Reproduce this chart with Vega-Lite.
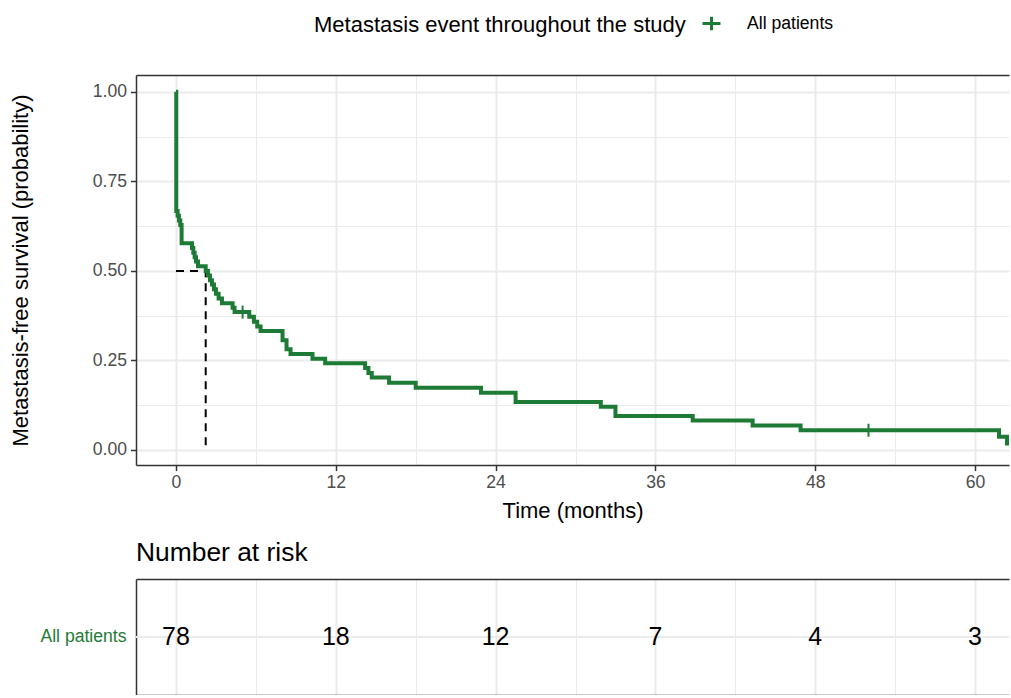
{
  "$schema": "https://vega.github.io/schema/vega-lite/v6.json",
  "background": "white",
  "padding": {"left": 9, "top": 13, "right": 0, "bottom": 0},
  "bounds": "flush",
  "spacing": 114,
  "config": {
    "font": "Liberation Sans",
    "view": {"stroke": null},
    "axis": {
      "labelFont": "Liberation Sans",
      "titleFont": "Liberation Sans",
      "titleFontWeight": "normal",
      "titleColor": "#000000",
      "labelColor": "#4d4d4d",
      "tickColor": "#333333",
      "domainColor": "#333333",
      "gridColor": "#ebebeb",
      "labelFlush": false
    },
    "title": {"font": "Liberation Sans"}
  },
  "datasets": {
    "km": [
      {"t": 0, "s": 1.0},
      {"t": 0.02, "s": 0.667},
      {"t": 0.12, "s": 0.654},
      {"t": 0.22, "s": 0.641},
      {"t": 0.32, "s": 0.628},
      {"t": 0.42, "s": 0.577},
      {"t": 1.2, "s": 0.564},
      {"t": 1.3, "s": 0.551},
      {"t": 1.4, "s": 0.538},
      {"t": 1.5, "s": 0.526},
      {"t": 1.65, "s": 0.513},
      {"t": 2.23, "s": 0.5},
      {"t": 2.4, "s": 0.487},
      {"t": 2.55, "s": 0.474},
      {"t": 2.7, "s": 0.462},
      {"t": 2.85, "s": 0.449},
      {"t": 3.0, "s": 0.436},
      {"t": 3.2, "s": 0.423},
      {"t": 3.45, "s": 0.41},
      {"t": 4.25, "s": 0.397},
      {"t": 4.4, "s": 0.385},
      {"t": 5.5, "s": 0.372},
      {"t": 5.85, "s": 0.358},
      {"t": 6.1, "s": 0.345},
      {"t": 6.35, "s": 0.332},
      {"t": 8.0, "s": 0.306},
      {"t": 8.3, "s": 0.281},
      {"t": 8.6, "s": 0.268},
      {"t": 10.25, "s": 0.255},
      {"t": 11.2, "s": 0.242},
      {"t": 14.2, "s": 0.229},
      {"t": 14.45, "s": 0.215},
      {"t": 14.7, "s": 0.202},
      {"t": 16.0, "s": 0.188},
      {"t": 18.0, "s": 0.174},
      {"t": 22.9, "s": 0.16},
      {"t": 25.5, "s": 0.134},
      {"t": 31.9, "s": 0.121},
      {"t": 33.0, "s": 0.095},
      {"t": 38.8, "s": 0.082},
      {"t": 43.3, "s": 0.068},
      {"t": 46.9, "s": 0.055},
      {"t": 61.8, "s": 0.037},
      {"t": 62.4, "s": 0.018},
      {"t": 62.7, "s": 0.018}
    ],
    "censor": [
      {"t": 5.0, "s": 0.385},
      {"t": 52.0, "s": 0.055}
    ],
    "median": [
      {"t": 0, "s": 0.5, "o": 1},
      {"t": 2.23, "s": 0.5, "o": 2},
      {"t": 2.23, "s": 0, "o": 3}
    ],
    "risk": [
      {"t": 0, "n": 78, "group": "All patients"},
      {"t": 12, "n": 18, "group": "All patients"},
      {"t": 24, "n": 12, "group": "All patients"},
      {"t": 36, "n": 7, "group": "All patients"},
      {"t": 48, "n": 4, "group": "All patients"},
      {"t": 60, "n": 3, "group": "All patients"}
    ]
  },
  "vconcat": [
    {
      "width": 873,
      "height": 390,
      "resolve": {"axis": {"x": "independent", "y": "independent"}},
      "layer": [
        {
          "data": {"name": "median"},
          "mark": {"type": "line", "color": "#000000", "strokeWidth": 2, "strokeDash": [8, 6]},
          "encoding": {
            "x": {
              "field": "t", "type": "quantitative",
              "scale": {"domain": [-3.004, 62.55], "nice": false, "zero": false},
              "axis": {"orient": "top", "domain": true, "domainWidth": 1.5, "ticks": false, "labels": false, "grid": false, "title": null}
            },
            "y": {
              "field": "s", "type": "quantitative",
              "scale": {"domain": [-0.042, 1.047], "nice": false, "zero": false},
              "axis": null
            },
            "order": {"field": "o"}
          }
        },
        {
          "data": {"name": "km"},
          "mark": {"type": "line", "interpolate": "step-after", "strokeWidth": 4, "clip": true},
          "encoding": {
            "x": {
              "field": "t", "type": "quantitative",
              "axis": {
                "orient": "bottom",
                "values": [0, 6, 12, 18, 24, 30, 36, 42, 48, 54, 60],
                "labelExpr": "datum.value % 12 === 0 ? datum.label : ''",
                "grid": true,
                "gridWidth": {"condition": {"test": "datum.value % 12 === 0", "value": 2}, "value": 1},
                "tickOpacity": {"condition": {"test": "datum.value % 12 === 0", "value": 1}, "value": 0},
                "tickSize": 5.5,
                "tickWidth": 1.5,
                "labelFontSize": 17.6,
                "labelPadding": 3,
                "domain": true,
                "domainWidth": 1.5,
                "title": "Time (months)",
                "titleFontSize": 22,
                "titleY": 45,
                "titleBaseline": "middle"
              }
            },
            "y": {
              "field": "s", "type": "quantitative",
              "axis": {
                "orient": "left",
                "values": [0, 0.125, 0.25, 0.375, 0.5, 0.625, 0.75, 0.875, 1],
                "format": ".2f",
                "labelExpr": "datum.value % 0.25 === 0 ? datum.label : ''",
                "grid": true,
                "gridWidth": {"condition": {"test": "datum.value % 0.25 === 0", "value": 2}, "value": 1},
                "tickOpacity": {"condition": {"test": "datum.value % 0.25 === 0", "value": 1}, "value": 0},
                "tickSize": 5.5,
                "tickWidth": 1.5,
                "labelFontSize": 17.6,
                "labelPadding": 4,
                "domain": true,
                "domainWidth": 1.5,
                "title": "Metastasis-free survival (probability)",
                "titleFontSize": 22,
                "titleX": -116,
                "titleY": 195,
                "titleAngle": 270,
                "titleAlign": "center",
                "titleBaseline": "middle"
              }
            },
            "color": {
              "datum": "All patients",
              "type": "nominal",
              "scale": {"domain": ["All patients"], "range": ["#1e7b35"]},
              "legend": {
                "orient": "none",
                "legendX": 178,
                "legendY": -62,
                "direction": "horizontal",
                "title": "Metastasis event throughout the study",
                "titleOrient": "left",
                "titleLimit": 1000,
                "titleFontSize": 22,
                "titleFontWeight": "normal",
                "titleColor": "#000000",
                "titleFont": "Liberation Sans",
                "titlePadding": 15,
                "labelFontSize": 17.6,
                "labelColor": "#000000",
                "labelFont": "Liberation Sans",
                "labelOffset": 25,
                "labelLimit": 500,
                "symbolType": "M-1,0H1M0,-0.75V0.75",
                "symbolSize": 324,
                "symbolStrokeWidth": 3
              }
            }
          }
        },
        {
          "data": {"name": "censor"},
          "mark": {"type": "point", "shape": "M0,-1V1", "size": 169, "filled": false, "strokeWidth": 2, "color": "#1e7b35", "opacity": 1},
          "encoding": {
            "x": {"field": "t", "type": "quantitative", "axis": null},
            "y": {"field": "s", "type": "quantitative", "axis": null}
          }
        }
      ]
    },
    {
      "width": 873,
      "height": 116,
      "title": {"text": "Number at risk", "anchor": "start", "frame": "group", "fontSize": 26.4, "fontWeight": "normal", "color": "#000000", "offset": 13},
      "resolve": {"axis": {"x": "independent", "y": "independent"}},
      "layer": [
        {
          "data": {"values": [{"group": "All patients"}]},
          "mark": {"type": "rule", "color": "#ebebeb", "strokeWidth": 2},
          "encoding": {
            "y": {"field": "group", "type": "nominal", "axis": null},
            "x": {
              "datum": -3.004, "type": "quantitative",
              "scale": {"domain": [-3.004, 62.55], "nice": false, "zero": false},
              "axis": {"orient": "top", "domain": true, "domainWidth": 1.5, "ticks": false, "labels": false, "grid": false, "title": null}
            },
            "x2": {"datum": 62.55}
          }
        },
        {
          "data": {"name": "risk"},
          "mark": {"type": "text", "fontSize": 25, "color": "#000000", "align": "center", "baseline": "middle", "font": "Liberation Sans"},
          "encoding": {
            "x": {
              "field": "t", "type": "quantitative",
              "axis": {
                "orient": "bottom",
                "values": [0, 6, 12, 18, 24, 30, 36, 42, 48, 54, 60],
                "grid": true,
                "gridWidth": {"condition": {"test": "datum.value % 12 === 0", "value": 2}, "value": 1},
                "labels": false,
                "ticks": false,
                "domain": true,
                "domainWidth": 1.5,
                "title": null
              }
            },
            "y": {
              "field": "group", "type": "nominal",
              "axis": {
                "orient": "left",
                "title": null,
                "labelColor": "#1e7b35",
                "labelFontSize": 17.6,
                "labelPadding": 10,
                "ticks": false,
                "domain": true,
                "domainWidth": 1.5,
                "grid": false
              }
            },
            "text": {"field": "n", "type": "quantitative"}
          }
        }
      ]
    }
  ]
}
